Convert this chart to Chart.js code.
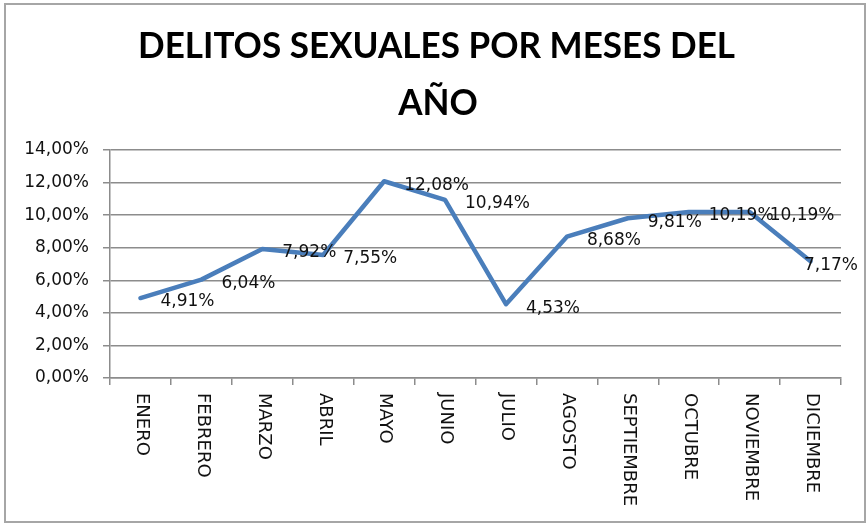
<!DOCTYPE html>
<html>
<head>
<meta charset="utf-8">
<script src="https://cdn.jsdelivr.net/npm/chart.js@4.4.1/dist/chart.umd.min.js"></script>
<style>
  html, body { margin: 0; padding: 0; background: #ffffff; }
  #wrap { width: 867px; height: 525px; position: relative; }
</style>
</head>
<body>
<div id="wrap"><canvas id="c" width="867" height="525"></canvas></div>
<script>
// ---- data ----
const titleLines = ['DELITOS SEXUALES POR MESES DEL', 'AÑO'];
const categories = ['ENERO', 'FEBRERO', 'MARZO', 'ABRIL', 'MAYO', 'JUNIO', 'JULIO', 'AGOSTO', 'SEPTIEMBRE', 'OCTUBRE', 'NOVIEMBRE', 'DICIEMBRE'];
const values = [4.91, 6.04, 7.92, 7.55, 12.08, 10.94, 4.53, 8.68, 9.81, 10.19, 10.19, 7.17];
const yMin = 0, yMax = 14, yStep = 2;

const fmtPct = v => v.toFixed(2).replace('.', ',') + '%';
const GRID = '#8c8c8c';
const FONT = "'DejaVu Sans', Verdana, sans-serif";

const frame = {
  id: 'frame',
  beforeDraw(chart) {
    const ctx = chart.ctx;
    ctx.save();
    ctx.fillStyle = '#ffffff';
    ctx.fillRect(0, 0, chart.width, chart.height);
    ctx.strokeStyle = '#a6a6a6';
    ctx.lineWidth = 2;
    ctx.strokeRect(5, 4, 860, 518);
    ctx.restore();
  }
};

const titlePlugin = {
  id: 'titleDraw',
  afterDraw(chart) {
    const ctx = chart.ctx;
    ctx.save();
    ctx.fillStyle = '#000';
    ctx.font = "bold 36px Lato, 'Open Sans', sans-serif";
    ctx.textAlign = 'center';
    ctx.textBaseline = 'alphabetic';
    const w = ctx.measureText(titleLines[0]).width;
    const sx = 597 / w;
    ctx.translate(436.5, 58);
    ctx.scale(sx, 1);
    ctx.fillText(titleLines[0], 0, 0);
    ctx.restore();
    ctx.save();
    ctx.fillStyle = '#000';
    ctx.font = "bold 36px Lato, 'Open Sans', sans-serif";
    ctx.textAlign = 'center';
    ctx.translate(438, 115);
    ctx.scale(sx, 1);
    ctx.fillText(titleLines[1], 0, 0);
    ctx.restore();
  }
};

const xLabels = {
  id: 'xLabels',
  afterDraw(chart) {
    const ctx = chart.ctx;
    const xs = chart.scales.x;
    const top = chart.chartArea.bottom + 15;
    ctx.save();
    ctx.fillStyle = '#111';
    ctx.font = '18px ' + FONT;
    ctx.textAlign = 'left';
    ctx.textBaseline = 'middle';
    categories.forEach((lab, i) => {
      const x = xs.getPixelForValue(i);
      ctx.save();
      ctx.translate(x + 1, top);
      ctx.rotate(Math.PI / 2);
      ctx.fillText(lab, 0, 0);
      ctx.restore();
    });
    ctx.restore();
  }
};

const dataLabels = {
  id: 'dataLabels',
  afterDatasetsDraw(chart) {
    const ctx = chart.ctx;
    const meta = chart.getDatasetMeta(0);
    ctx.save();
    ctx.fillStyle = '#111';
    ctx.font = '17px ' + FONT;
    ctx.textAlign = 'left';
    ctx.textBaseline = 'middle';
    meta.data.forEach((pt, i) => {
      const txt = fmtPct(values[i]);
      const w = ctx.measureText(txt).width;
      let x = pt.x + 20;
      if (x + w > 858) x = 858 - w;
      ctx.fillText(txt, x, pt.y + 4);
    });
    ctx.restore();
  }
};

new Chart(document.getElementById('c'), {
  type: 'line',
  data: {
    labels: categories,
    datasets: [{
      data: values,
      borderColor: '#4A7EBB',
      borderWidth: 4.5,
      pointRadius: 0,
      tension: 0,
      fill: false,
      borderJoinStyle: 'round',
      borderCapStyle: 'round'
    }]
  },
  options: {
    responsive: false,
    animation: false,
    devicePixelRatio: 1,
    layout: { padding: { top: 150, left: 0, right: 26, bottom: 0 } },
    plugins: { legend: { display: false }, tooltip: { enabled: false }, title: { display: false } },
    scales: {
      x: {
        type: 'category',
        offset: true,
        grid: { display: true, drawOnChartArea: false, drawTicks: true, tickLength: 7, offset: true, color: GRID, lineWidth: 1.5 },
        border: { display: true, color: GRID, width: 1.5 },
        ticks: { display: false },
        afterFit(s) { s.height = 147; }
      },
      y: {
        min: yMin,
        max: yMax,
        ticks: {
          stepSize: yStep,
          callback: v => fmtPct(v),
          font: { family: FONT, size: 17 },
          color: '#111',
          padding: 14
        },
        grid: { color: GRID, lineWidth: 1.5, tickLength: 7, drawTicks: true },
        border: { display: true, color: GRID, width: 1.5 },
        afterFit(s) { s.width = 110; }
      }
    }
  },
  plugins: [frame, titlePlugin, xLabels, dataLabels]
});
</script>
</body>
</html>
